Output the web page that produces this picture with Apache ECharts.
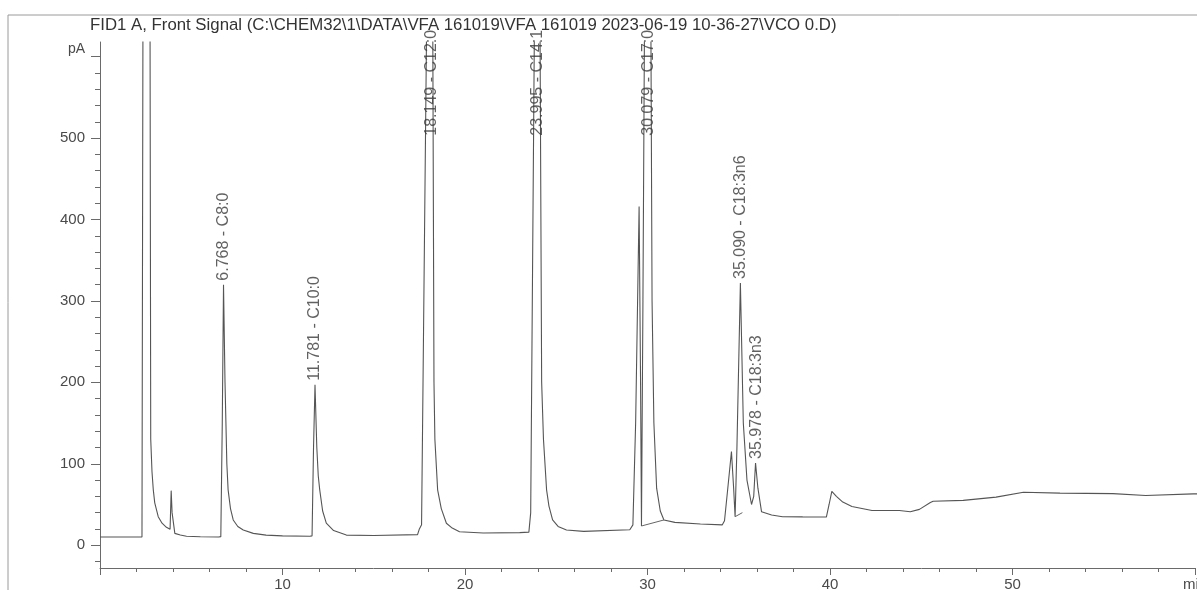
<!DOCTYPE html>
<html>
<head>
<meta charset="utf-8">
<script src="https://cdn.jsdelivr.net/npm/echarts@6/dist/echarts.min.js"></script>
<style>
html,body{margin:0;padding:0;background:#ffffff;}
#chart{width:1197px;height:590px;}
</style>
</head>
<body>
<div id="chart"></div>
<script>
// ---- data ----
const titleText = 'FID1 A, Front Signal (C:\\CHEM32\\1\\DATA\\VFA 161019\\VFA 161019 2023-06-19 10-36-27\\VCO 0.D)';
// retention time (min)
const signalTime = [0,2.30,2.36,2.40,2.70,2.78,2.85,2.92,3.00,3.19,3.40,3.64,3.84,3.90,3.95,4.10,4.40,4.74,5.50,6.50,6.62,6.70,6.768,6.85,6.95,7.02,7.15,7.30,7.55,7.85,8.40,9.10,10.0,11.5,11.62,11.70,11.781,11.88,11.96,12.04,12.20,12.40,12.80,13.50,15.0,17.4,17.5,17.62,17.70,18.149,18.30,18.35,18.50,18.70,18.98,19.30,19.70,21.0,23.0,23.50,23.60,23.995,24.20,24.30,24.47,24.60,24.80,25.10,25.56,26.50,29.03,29.20,29.35,29.54,29.62,29.67,29.75,29.85,30.079,30.25,30.35,30.50,30.70,30.90,31.50,32.90,34.10,34.22,34.40,34.60,34.72,34.80,34.90,35.090,35.25,35.45,35.70,35.82,35.92,36.05,36.25,36.80,37.40,38.50,39.80,39.95,40.10,40.35,40.70,41.20,42.30,43.80,44.40,44.90,45.50,45.65,47.30,49.10,50.60,52.60,55.50,57.30,59.90,60.20];
// detector signal (pA); off-scale peaks run past the top of the plot
const signalValue = [10,10,10,1200,1200,130,90,68,52,35,27,22,19.5,67,40,14.5,12.5,11,10.3,10,10.5,150,320,200,100,68,45,31,23,18.6,14.5,12.4,11.5,11,11.5,120,197,120,85,68,42,27,18,12.4,12,13,20,25,200,1200,200,130,68,45,27,21,16.5,15,15.5,16,40,1200,200,130,68,48,31,23,18.6,17,19,25,150,416,200,23.6,300,700,1200,300,150,70,42,31,28,26,25,30,70,115,70,35,120,322,150,80,50,60,101,70,41,37,35,34.8,34.6,50,66,60,53,47.6,42.6,42.6,41,44,52.5,54,55,59,65,64,63.4,61,63,63];
// integration baseline marks
const baseSegA = [[29.67,23.6],[30.90,31]];
const baseSegB = [[34.80,35],[35.20,40]];
// peak annotations
const peakTime = [6.768,11.781,18.149,23.995,30.079,35.090,35.978];
const peakLabelAt = [320,197,498,498,498,322,101];
const peakName = ['6.768 - C8:0','11.781 - C10:0','18.149 - C12:0','23.995 - C14:1','30.079 - C17:0','35.090 - C18:3n6','35.978 - C18:3n3'];
const yMajor = [0,100,200,300,400,500,600];
const yMinor = [-20,0,20,40,60,80,100,120,140,160,180,200,220,240,260,280,300,320,340,360,380,400,420,440,460,480,500,520,540,560,580,600];

const FONT = '"Liberation Sans", Arial, sans-serif';
const INK = '#4a4a4a';
const chart = echarts.init(document.getElementById('chart'), null, {renderer:'canvas'});
const trace = signalTime.map((t,i)=>[t, signalValue[i]]);
const labelData = peakTime.map((t,i)=>({name: peakName[i], value:[t, peakLabelAt[i]]}));

const yCommon = {type:'value', min:-28, max:618, position:'left', splitLine:{show:false}};
chart.setOption({
  animation:false,
  backgroundColor:'#ffffff',
  grid:{left:100, right:2, top:42, bottom:22, containLabel:false, outerBoundsMode:'none'},
  xAxis:{type:'value', min:0, max:60, interval:10,
    axisLine:{show:true, onZero:false, lineStyle:{color:'#6a6a6a', width:1}},
    axisTick:{show:true, length:7, lineStyle:{color:'#6a6a6a'}},
    minorTick:{show:true, splitNumber:5, length:4, lineStyle:{color:'#6a6a6a'}},
    splitLine:{show:false},
    axisLabel:{color:INK, fontFamily:FONT, fontSize:15, margin:9, hideOverlap:false,
      formatter:v=> v===0 ? '' : (v===60 ? 'min' : String(v))}
  },
  yAxis:[
    Object.assign({}, yCommon, {
      axisLine:{show:true, lineStyle:{color:'#6a6a6a', width:1}},
      axisTick:{show:true, length:9, customValues:yMajor, lineStyle:{color:'#6a6a6a'}},
      axisLabel:{color:INK, fontFamily:FONT, fontSize:15, margin:15, customValues:yMajor,
        formatter:v=> v===600 ? '{u|pA}' : String(v),
        rich:{u:{fontFamily:FONT, fontSize:14, color:INK, padding:[0,0,16,0]}}}
    }),
    Object.assign({}, yCommon, {
      axisLine:{show:false},
      axisTick:{show:true, length:5, customValues:yMinor, lineStyle:{color:'#6a6a6a'}},
      axisLabel:{show:false}
    })
  ],
  graphic:[
    {type:'line', shape:{x1:8,y1:15,x2:1197,y2:15}, style:{stroke:'#9a9a9a', lineWidth:1}},
    {type:'line', shape:{x1:8,y1:15,x2:8,y2:590}, style:{stroke:'#9a9a9a', lineWidth:1}},
    {type:'text', left:90, top:17, style:{text:titleText, font:'16.8px '+FONT, fill:'#333'}}
  ],
  series:[
    {type:'line', data:trace, showSymbol:false, symbol:'none', clip:true,
      lineStyle:{color:'#555', width:1.1}, z:3},
    {type:'line', data:baseSegA, showSymbol:false, symbol:'none', lineStyle:{color:'#666', width:1}},
    {type:'line', data:baseSegB, showSymbol:false, symbol:'none', lineStyle:{color:'#666', width:1}},
    {type:'scatter', data:labelData, symbolSize:0, clip:false, z:5,
      label:{show:true, position:'inside', align:'left', verticalAlign:'middle', rotate:90,
        padding:[0,0,0,4], formatter:p=>p.name, color:'#3a3a3a', fontFamily:FONT, fontSize:16}}
  ]
});
</script>
</body>
</html>
